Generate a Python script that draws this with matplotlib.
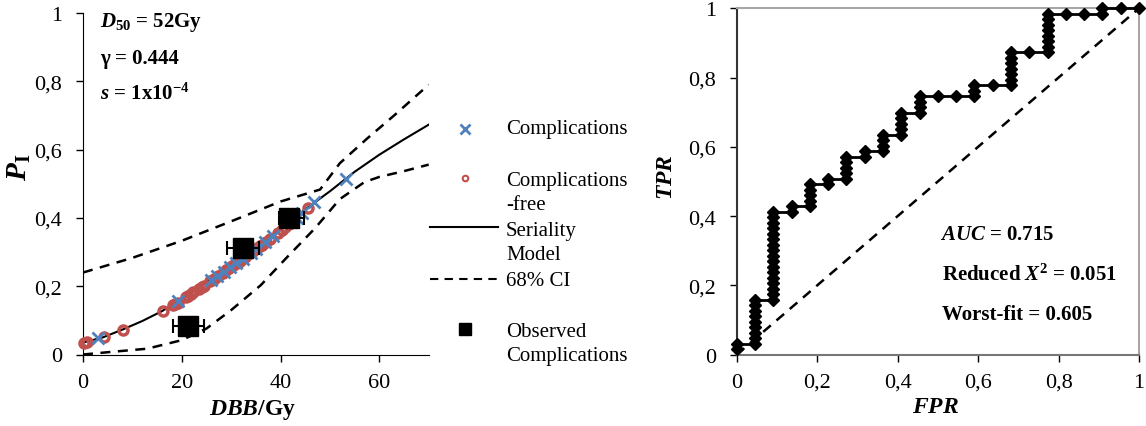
import numpy as np
import matplotlib
matplotlib.use('Agg')
import matplotlib.pyplot as plt

plt.rcParams['font.family'] = ['Liberation Serif', 'DejaVu Serif']
plt.rcParams['mathtext.fontset'] = 'custom'
plt.rcParams['mathtext.rm'] = 'Liberation Serif'
plt.rcParams['mathtext.it'] = 'Liberation Serif:italic'
plt.rcParams['mathtext.bf'] = 'Liberation Serif:bold'
plt.rcParams['mathtext.bfit'] = 'Liberation Serif:italic:bold'

# --- left panel: seriality model fit ---
model_dose = [0, 4, 8, 12, 16, 20, 25, 30, 35, 40, 45, 50, 55, 60, 65, 70]
model_p = [0.035, 0.05, 0.073, 0.098, 0.127, 0.163, 0.213, 0.265, 0.315, 0.368,
           0.425, 0.478, 0.535, 0.585, 0.63, 0.673]

ci_up_dose = [0, 10, 20, 30, 40, 48, 52, 57.5, 63, 70]
ci_up_p = [0.24, 0.283, 0.333, 0.39, 0.448, 0.483, 0.56, 0.632, 0.70, 0.79]
ci_lo_dose = [0, 6, 13, 20, 25, 30, 36, 41, 47, 52, 57, 60, 65, 70]
ci_lo_p = [0.0, 0.008, 0.017, 0.042, 0.076, 0.13, 0.203, 0.28, 0.37, 0.455,
           0.505, 0.52, 0.537, 0.556]

free_dose = [0.3, 0.8, 4.2, 8.2, 16.3, 18.2, 18.7, 19.3, 20.8, 21.3, 21.8, 22.3,
             23.5, 24.0, 24.5, 25.8, 26.5, 27.3, 28.3, 29.0, 29.5, 30.2, 30.8,
             31.5, 32.0, 32.8, 33.5, 34.5, 35.3, 35.8, 36.3, 37.0, 37.8, 39.5,
             40.3, 41.0, 41.8, 42.5, 45.6]
free_p = [0.035, 0.036, 0.052, 0.073, 0.128, 0.145, 0.148, 0.152, 0.168, 0.172,
          0.177, 0.182, 0.193, 0.198, 0.202, 0.215, 0.222, 0.23, 0.24, 0.247,
          0.252, 0.258, 0.264, 0.272, 0.277, 0.286, 0.293, 0.303, 0.312, 0.317,
          0.322, 0.33, 0.338, 0.357, 0.366, 0.374, 0.383, 0.39, 0.43]

comp_dose = [3.1, 19.2, 26.0, 27.2, 28.5, 29.8, 31.0, 32.3, 34.0, 35.0, 36.8,
             38.5, 43.3, 44.4, 46.7, 53.3]
comp_p = [0.047, 0.157, 0.218, 0.229, 0.242, 0.256, 0.267, 0.28, 0.297, 0.308,
          0.328, 0.346, 0.40, 0.415, 0.448, 0.514]

obs_dose = [21.3, 32.3, 41.8]
obs_p = [0.083, 0.312, 0.40]
obs_err_lo = [3.0, 3.1, 2.2]
obs_err_hi = [3.1, 3.3, 2.9]

# --- right panel: ROC curve (counts of 22 negatives / 63 positives) ---
n_neg, n_pos = 22, 63
roc_fp = list(range(23))
roc_tp_from = [1, 2, 10, 26, 27, 31, 32, 36, 37, 40, 44, 47, 47, 47, 49, 49, 55,
               55, 62, 62, 62, 63, 63]
roc_tp_to = [2, 10, 26, 27, 31, 32, 36, 37, 40, 44, 47, 47, 47, 49, 49, 55, 55,
             62, 62, 62, 63, 63, 63]

ticks01 = [0, 0.2, 0.4, 0.6, 0.8, 1.0]
tick_labels01 = ['0', '0,2', '0,4', '0,6', '0,8', '1']

fig = plt.figure(figsize=(11.46, 4.27), dpi=100)
W, H = 1146, 427

ax1 = fig.add_axes([83 / W, (H - 355.5) / H, 345.7 / W, 341.5 / H])
ax1.plot(ci_up_dose, ci_up_p, color='black', lw=1.8, dashes=(4, 3), zorder=2)
ax1.plot(ci_lo_dose, ci_lo_p, color='black', lw=1.8, dashes=(4, 3), zorder=2)
ax1.plot(model_dose, model_p, color='black', lw=1.5, zorder=3)
ax1.plot(free_dose, free_p, 'o', ms=6.5, mfc='none', mec='#C0504D', mew=2.5,
         zorder=4, clip_on=False)
ax1.plot(comp_dose, comp_p, 'x', ms=9, color='#4F81BD', mew=2, zorder=5)
ax1.errorbar(obs_dose, obs_p, xerr=[obs_err_lo, obs_err_hi], fmt='s', ms=15,
             color='black', ecolor='black', elinewidth=1.5, capsize=5,
             capthick=1.5, zorder=6)

ax1.set_xlim(0, 70)
ax1.set_ylim(0, 1)
ax1.set_xticks([0, 20, 40, 60])
ax1.set_yticks(ticks01)
ax1.set_yticklabels(tick_labels01)
for s in ['top', 'right']:
    ax1.spines[s].set_visible(False)
ax1.tick_params(axis='both', labelsize=16, length=5, width=1, direction='out')
ax1.tick_params(axis='x', pad=8)
ax1.tick_params(axis='y', pad=10)
ax1.set_xlabel(r'$\mathbfit{DBB}$/Gy', fontsize=17, fontweight='bold')
ax1.xaxis.set_label_coords(0.49, -0.125)
ax1.set_ylabel(r'$\mathbfit{P}_{\mathbf{I}}$', fontsize=21)
ax1.yaxis.set_label_coords(-0.145, 0.55)

ax1.text(0.049, 0.963, r'$\mathbfit{D}_{\mathbf{50}}$ = 52Gy',
         transform=ax1.transAxes, fontsize=15, fontweight='bold', va='baseline')
ax1.text(0.049, 0.855, 'γ = 0.444', transform=ax1.transAxes, fontsize=15,
         fontweight='bold', va='baseline')
ax1.text(0.049, 0.748, r'$\mathbfit{s}$ = 1x10$^{\mathbf{-4}}$',
         transform=ax1.transAxes, fontsize=15, fontweight='bold', va='baseline')

# manual legend in figure pixel coordinates
lax = fig.add_axes([0, 0, 1, 1])
lax.set_xlim(0, W)
lax.set_ylim(H, 0)
lax.axis('off')
lax.plot([465], [130], 'x', ms=7, color='#4F81BD', mew=2)
lax.plot([465], [179], 'o', ms=4, mfc='none', mec='#C0504D', mew=1.5)
lax.plot([430, 498], [228, 228], color='black', lw=1.5)
lax.plot([430, 498], [280, 280], color='black', lw=1.5, dashes=(4, 3))
lax.plot([465], [330], 's', ms=9, color='black')
legend_lines = [('Complications', 130), ('Complications', 182), ('-free', 206),
                ('Seriality', 232), ('Model', 256), ('68% CI', 282),
                ('Observed', 333), ('Complications', 357)]
for txt, yy in legend_lines:
    lax.text(506, yy, txt, fontsize=15, va='center', ha='left')

# right panel
ax2 = fig.add_axes([736.7 / W, (H - 355.7) / H, 402.3 / W, 346.4 / H])
fpr, tpr = [], []
for fp, t0, t1 in zip(roc_fp, roc_tp_from, roc_tp_to):
    for tp in range(t0, t1 + 1):
        fpr.append(fp / n_neg)
        tpr.append(tp / n_pos)
ax2.plot([0, 1], [0, 1], color='black', lw=1.8, dashes=(4, 3), zorder=2)
ax2.plot(fpr, tpr, color='black', lw=2, marker='D', ms=6, zorder=3,
         clip_on=False)
ax2.set_xlim(0, 1)
ax2.set_ylim(0, 1)
ax2.set_xticks(ticks01)
ax2.set_xticklabels(tick_labels01)
ax2.set_yticks(ticks01)
ax2.set_yticklabels(tick_labels01)
ax2.spines['top'].set_color('#A6A6A6')
ax2.spines['right'].set_color('#A6A6A6')
ax2.spines['left'].set_color('#333333')
ax2.spines['bottom'].set_color('#777777')
for s in ax2.spines.values():
    s.set_linewidth(1.5)
ax2.tick_params(axis='both', labelsize=16, length=5, width=1, direction='out')
ax2.tick_params(axis='x', pad=8)
ax2.tick_params(axis='y', pad=10)
ax2.set_xlabel(r'$\mathbfit{FPR}$', fontsize=17)
ax2.xaxis.set_label_coords(0.495, -0.12)
ax2.set_ylabel(r'$\mathbfit{TPR}$', fontsize=17)
ax2.yaxis.set_label_coords(-0.148, 0.516)

ax2.text(0.505, 0.334, r'$\mathbfit{AUC}$ = 0.715',
         transform=ax2.transAxes, fontsize=15, fontweight='bold', va='baseline')
ax2.text(0.51, 0.216, r'Reduced $\mathbfit{X}^{\mathbf{2}}$ = 0.051',
         transform=ax2.transAxes, fontsize=15, fontweight='bold', va='baseline')
ax2.text(0.51, 0.103, 'Worst-fit = 0.605', transform=ax2.transAxes,
         fontsize=15, fontweight='bold', va='baseline')

fig.savefig('out.png', dpi=100)
